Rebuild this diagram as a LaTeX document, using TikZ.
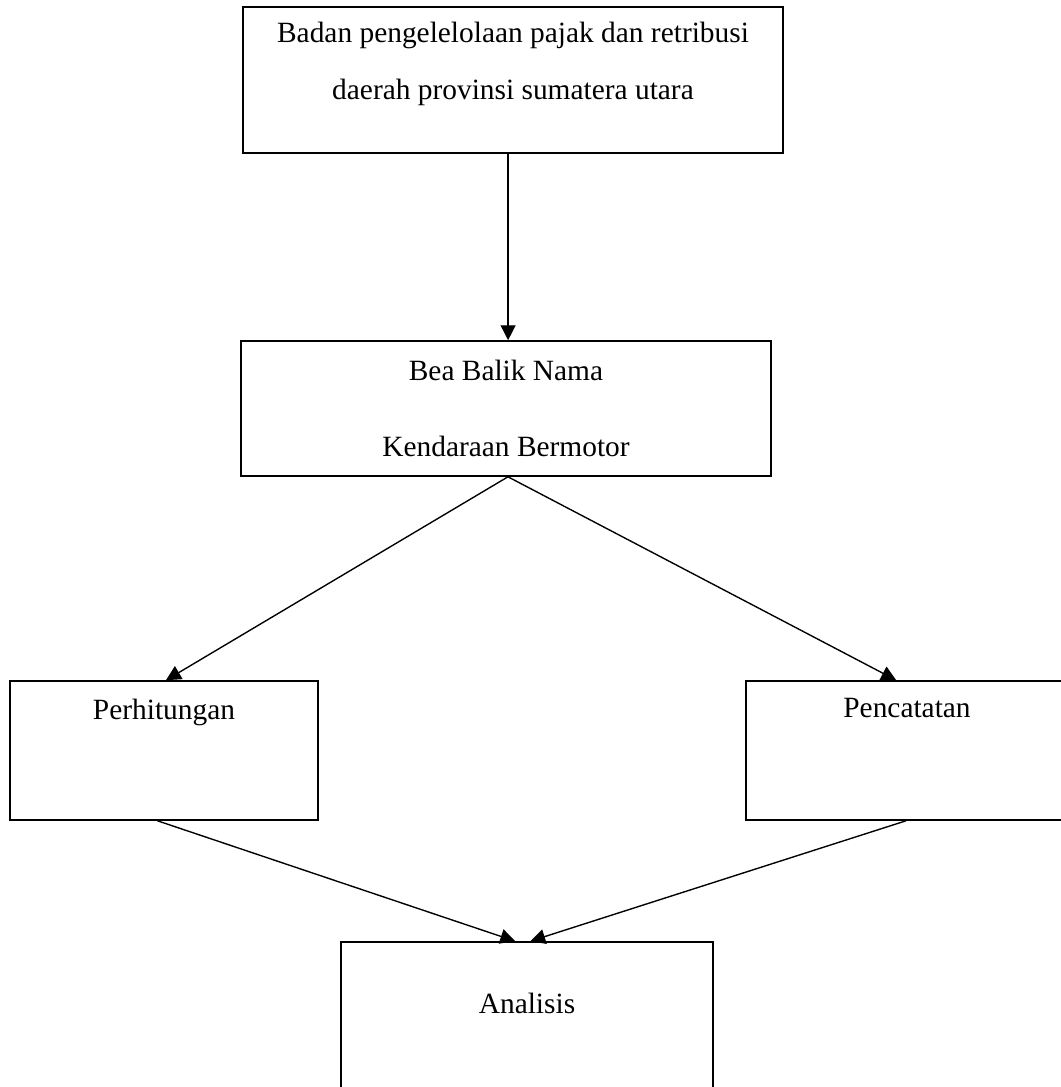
\documentclass[tikz,border=0pt]{standalone}
\usepackage{fontspec}
\setmainfont{Liberation Serif}
\usetikzlibrary{arrows.meta}

\tikzset{
  box/.style={draw, line width=0.7pt, inner sep=0pt},
  arr/.style={line width=0.6pt, -{Triangle[length=6.5pt,width=6.5pt]}},
  txt/.style={font=\fontsize{12.8}{15}\selectfont, inner sep=0pt}
}

\begin{document}
\begin{tikzpicture}[x=0.0153cm, y=-0.0153cm]
    \useasboundingbox (0,0) rectangle (1061,1087);
    % Boxes
    \node[box, minimum width=8.262cm, minimum height=2.234cm] (badan) at (513,80) {};
    \node[box, minimum width=8.109cm, minimum height=2.066cm] (bbn) at (506,408.5) {};
    \node[box, minimum width=4.720cm, minimum height=2.127cm] (hitung) at (164,750.5) {};
    \node[box, minimum width=4.896cm, minimum height=2.127cm] (catat) at (906,750.5) {};
    \node[box, minimum width=5.692cm, minimum height=2.448cm] (analisis) at (527,1022) {};

    % Texts
    \node[txt, align=center, font=\fontsize{12.8}{25}\selectfont] at (513,64)
        {Badan pengelelolaan pajak dan retribusi\\daerah provinsi sumatera utara};
    \node[txt, align=center, font=\fontsize{12.8}{33}\selectfont] at (506,408.5)
        {Bea Balik Nama\\Kendaraan Bermotor};
    \node[txt] at (164,712) {Perhitungan};
    \node[txt] at (907,708) {Pencatatan};
    \node[txt] at (527,1003) {Analisis};

    % Arrows
    \draw[arr] ([xshift=-0.075cm]badan.south) -- ([xshift=-0.075cm]badan.south |- bbn.north);
    \draw[arr] ([xshift=0.03cm]bbn.south) -- ([xshift=0.03cm]hitung.north);
    \draw[arr] ([xshift=0.03cm]bbn.south) -- ([xshift=-0.15cm]catat.north);
    \draw[arr] ([xshift=-0.1cm]hitung.south) -- ([xshift=-0.18cm]analisis.north);
    \draw[arr] (catat.south) -- ([xshift=0.05cm]analisis.north);
\end{tikzpicture}
\end{document}
